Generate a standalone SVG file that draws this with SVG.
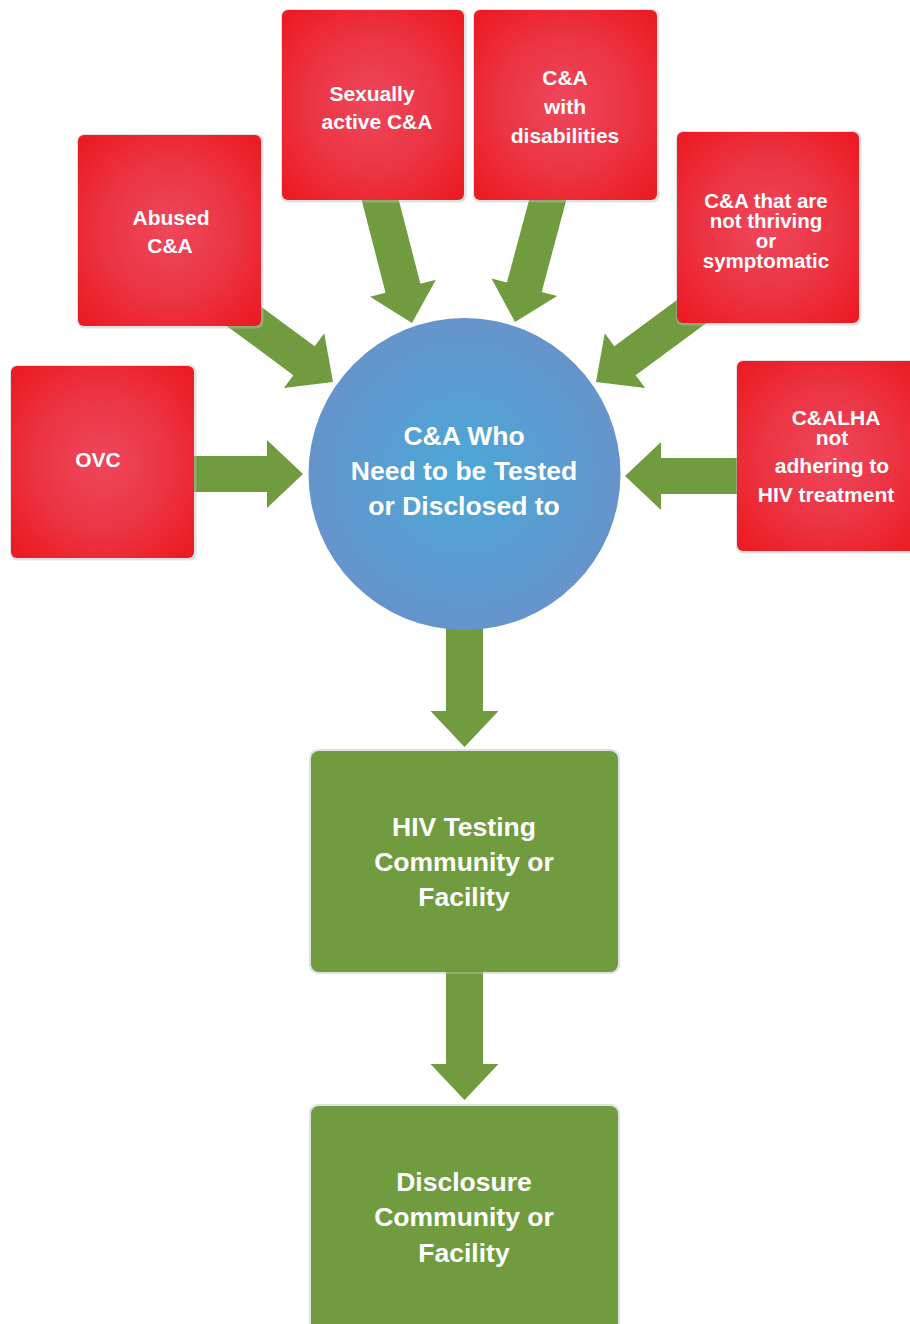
<svg xmlns="http://www.w3.org/2000/svg" width="910" height="1324" viewBox="0 0 910 1324">
<defs>
<radialGradient id="redG" cx="50%" cy="50%" r="65%">
<stop offset="0" stop-color="#ef475d"/>
<stop offset="0.55" stop-color="#ec3442"/>
<stop offset="1" stop-color="#ec1c24"/>
</radialGradient>
<radialGradient id="blueG" cx="50%" cy="50%" r="50%">
<stop offset="0" stop-color="#4ba8d8"/>
<stop offset="1" stop-color="#6594cb"/>
</radialGradient>
<polygon id="arr" points="0,0 -36,-34 -36,-18 -140,-18 -140,18 -36,18 -36,34"/>
</defs>
<style>
.red{fill:url(#redG)}
.sh{fill:#b8bcc0;opacity:0.45}
.grn{fill:#709c3f}
.arrow{fill:#709c3f}
text{font-family:"Liberation Sans",Arial,sans-serif;font-weight:bold;fill:#fff;text-anchor:middle}
.s21{font-size:21px}
.s20{font-size:20.5px}
.s26{font-size:26.5px}
.s27{font-size:26.5px}
</style>
<rect width="910" height="1324" fill="#fff"/>
<g id="connectors">
<polygon class="arrow" points="303,474 267,440 267,456 185,456 185,492 267,492 267,508"/>
<polygon class="arrow" points="625,476 661,442 661,458 745,458 745,494 661,494 661,510"/>
<use href="#arr" class="arrow" transform="translate(333,382) rotate(36.4)"/>
<use href="#arr" class="arrow" transform="translate(596,382) rotate(143.6)"/>
<polygon class="arrow" transform="translate(412,323) rotate(75.5)" points="0,0 -36,-34 -36,-18 -160,-18 -160,18 -36,18 -36,34"/>
<polygon class="arrow" transform="translate(515,322) rotate(105)" points="0,0 -36,-34 -36,-18 -160,-18 -160,18 -36,18 -36,34"/>
<polygon class="arrow" points="464.5,747 430.5,711 446,711 446,610 483,610 483,711 498.5,711"/>
<polygon class="arrow" points="464.5,1100 430.5,1064 446,1064 446,960 483,960 483,1064 498.5,1064"/>
</g>
<g id="abused">
<rect class="sh" x="77" y="134" width="186.5" height="194.5" rx="7"/>
<rect class="red" x="78" y="135" width="183" height="191" rx="6"/>
<text class="s21" x="171" y="225">Abused</text>
<text class="s21" x="170" y="253">C&amp;A</text>
</g>
<g id="sexually">
<rect class="sh" x="281" y="9" width="185.5" height="193.5" rx="7"/>
<rect class="red" x="282" y="10" width="182" height="190" rx="6"/>
<text class="s21" x="372" y="101">Sexually</text>
<text class="s21" x="377" y="129">active C&amp;A</text>
</g>
<g id="disabilities">
<rect class="sh" x="473" y="9" width="186.5" height="193.5" rx="7"/>
<rect class="red" x="474" y="10" width="183" height="190" rx="6"/>
<text class="s21" x="565" y="85">C&amp;A</text>
<text class="s21" x="565" y="114">with</text>
<text class="s21" x="565" y="143">disabilities</text>
</g>
<g id="thriving">
<rect class="sh" x="676" y="131" width="185.5" height="194.5" rx="7"/>
<rect class="red" x="677" y="132" width="182" height="191" rx="6"/>
<text class="s20" x="766" y="208">C&amp;A that are</text>
<text class="s20" x="766" y="228">not thriving</text>
<text class="s20" x="766" y="248">or</text>
<text class="s20" x="766" y="268">symptomatic</text>
</g>
<g id="ovc">
<rect class="sh" x="10" y="365" width="186.5" height="195.5" rx="7"/>
<rect class="red" x="11" y="366" width="183" height="192" rx="6"/>
<text class="s21" x="98" y="467">OVC</text>
</g>
<g id="calha">
<rect class="sh" x="736" y="360" width="180" height="193.5" rx="7"/>
<rect class="red" x="737" y="361" width="183" height="190" rx="6"/>
<text class="s21" x="836" y="425">C&amp;ALHA</text>
<text class="s21" x="832" y="445">not</text>
<text class="s21" x="832" y="473">adhering to</text>
<text class="s21" x="826" y="502">HIV treatment</text>
</g>
<g id="center">
<circle cx="464.5" cy="474" r="156" fill="url(#blueG)"/>
<text class="s26" x="464" y="445">C&amp;A Who</text>
<text class="s26" x="464" y="480">Need to be Tested</text>
<text class="s26" x="464" y="515">or Disclosed to</text>
</g>
<g id="testing">
<rect class="sh" x="309" y="749" width="311" height="225" rx="9"/>
<rect class="grn" x="311" y="751" width="307" height="221" rx="8"/>
<text class="s27" x="464" y="836">HIV Testing</text>
<text class="s27" x="464" y="871">Community or</text>
<text class="s27" x="464" y="906">Facility</text>
</g>
<g id="disclosure">
<rect class="sh" x="309" y="1104" width="311" height="230" rx="9"/>
<rect class="grn" x="311" y="1106" width="307" height="230" rx="8"/>
<text class="s27" x="464" y="1191">Disclosure</text>
<text class="s27" x="464" y="1226">Community or</text>
<text class="s27" x="464" y="1262">Facility</text>
</g>
</svg>
